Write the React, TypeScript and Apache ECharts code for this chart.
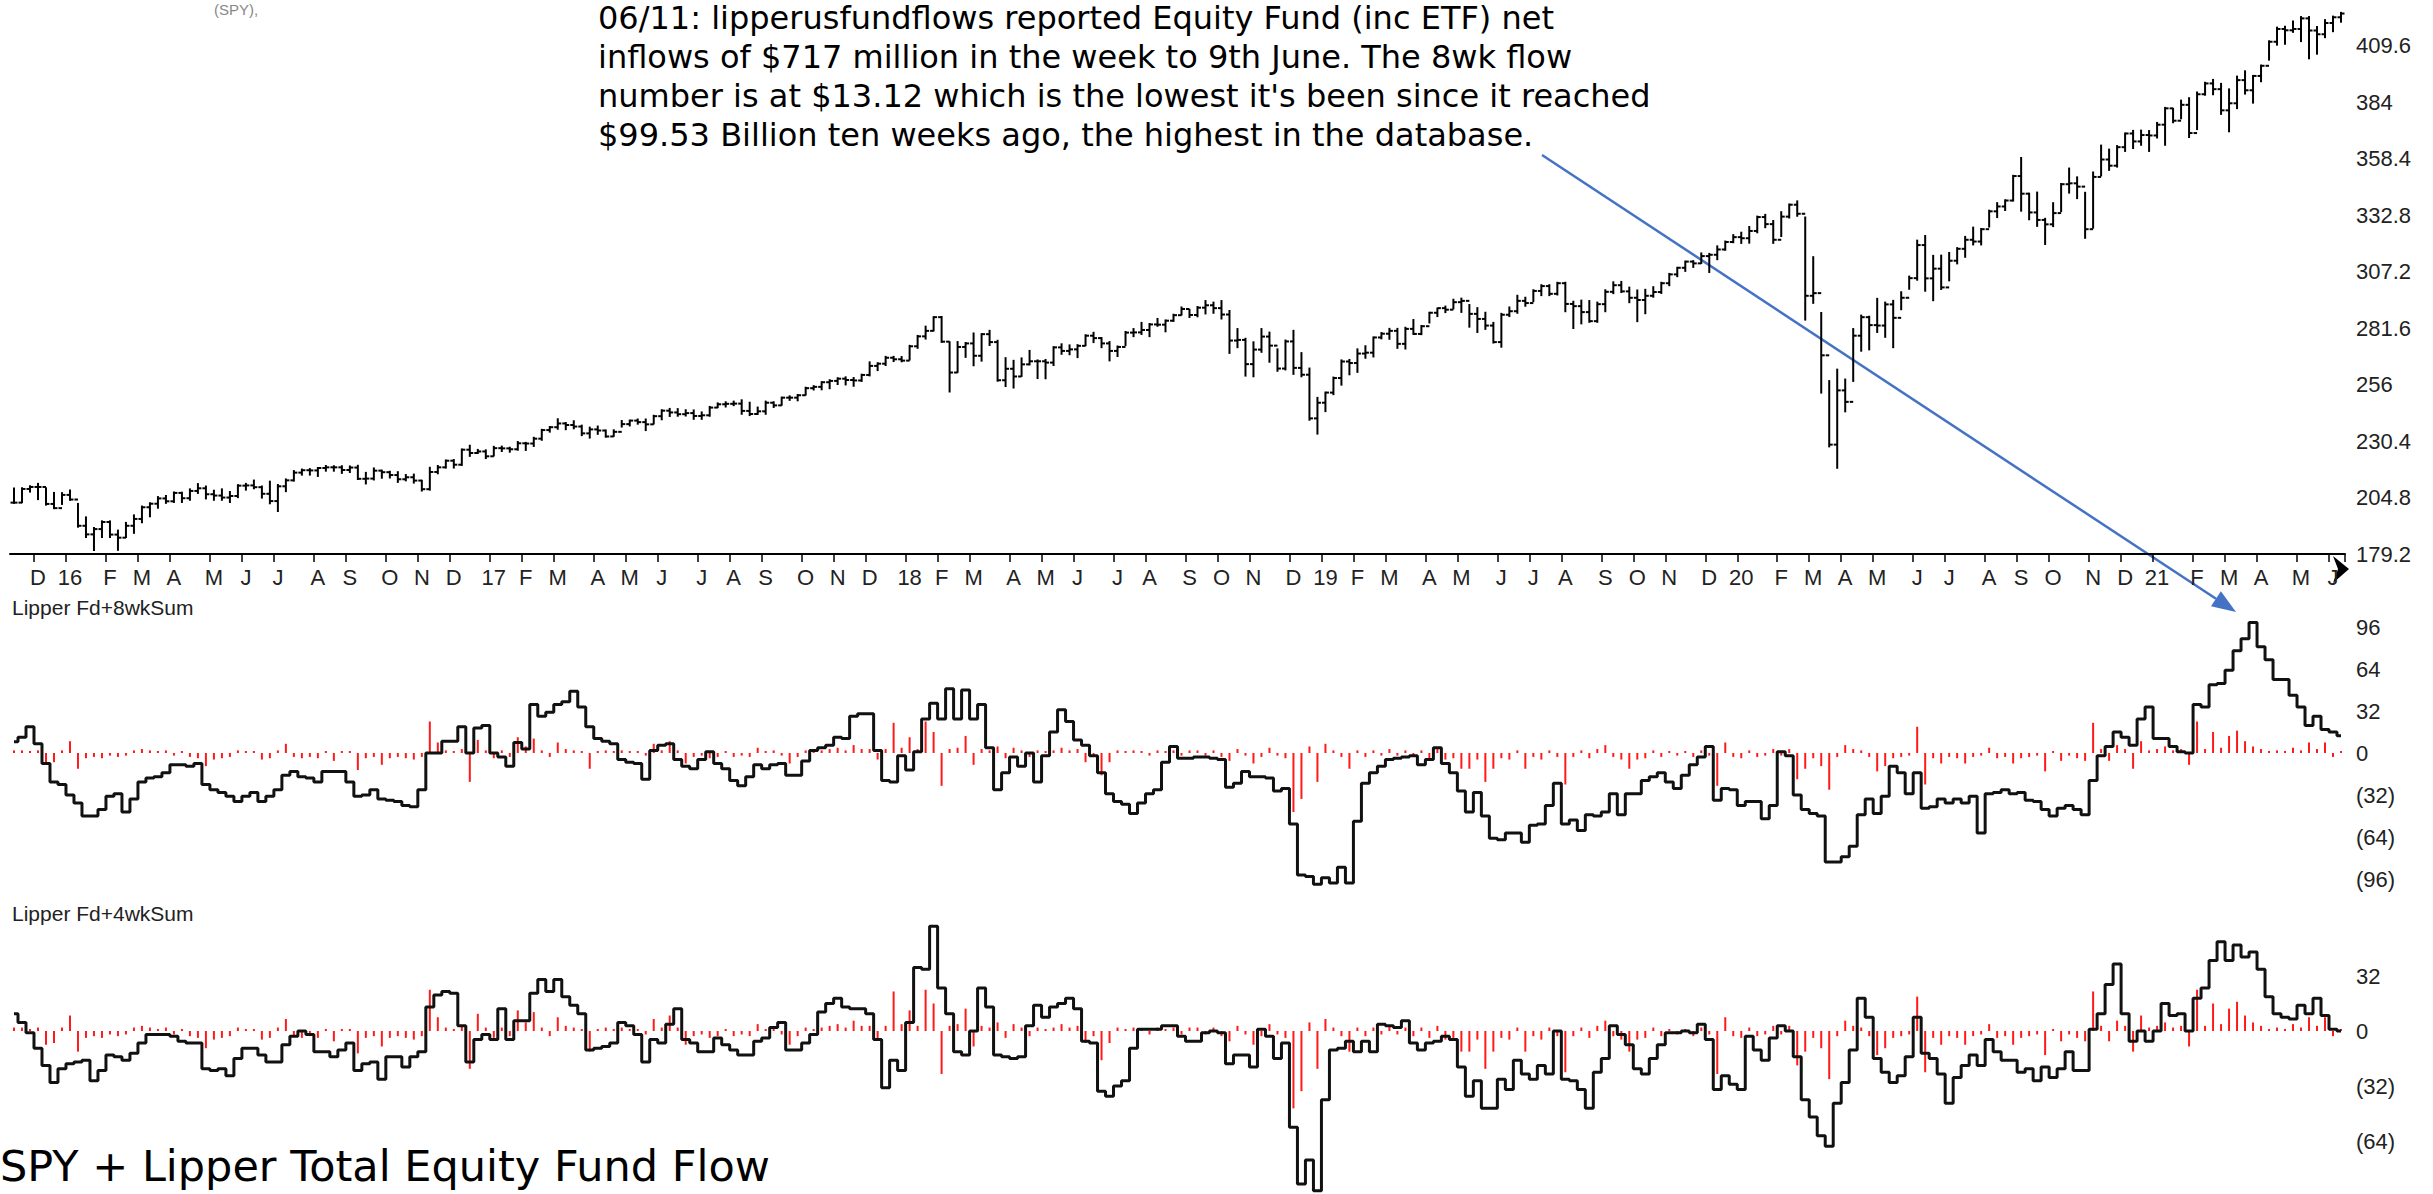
import React, { useEffect, useRef } from "react";
import * as echarts from "echarts";

// ---------- DATA ----------
const START_UTC = Date.UTC(2015, 10, 13);
const WEEKS = 292;
const weekDates: string[] = [];
for (let i = 0; i < WEEKS; i++) {
  weekDates.push(new Date(START_UTC + i * 7 * 86400000).toISOString().slice(0, 10));
}
const monthLetters = ["J", "F", "M", "A", "M", "J", "J", "A", "S", "O", "N", "D"];
const priceTicks = [179.2, 204.8, 230.4, 256, 281.6, 307.2, 332.8, 358.4, 384, 409.6];

const spyClose = [
  202.5, 208.7, 209.6, 209.6, 201.9, 200.0, 206.0, 203.9,
  192.0, 188.1, 190.5, 193.7, 188.0, 186.6, 192.0, 195.1, 200.4, 202.0, 204.4, 203.1, 206.9, 204.5, 207.8, 209.0, 206.3, 205.7, 204.8, 205.5, 210.2, 210.3, 209.5, 206.5, 203.2, 209.9, 212.6, 216.1, 217.2, 217.1, 218.2, 218.5, 218.5, 217.3, 218.4, 213.3, 213.4, 217.0, 216.3, 215.0, 213.1, 214.0, 212.5, 208.6, 216.4, 218.5, 221.5, 219.7, 226.5, 225.0, 225.7, 223.5,
  227.2, 227.1, 226.7, 229.4, 229.3, 231.5, 235.4, 236.7, 238.4, 237.7, 237.0, 233.9, 235.7, 235.2, 232.5, 234.6, 238.1, 239.7, 239.0, 238.0, 241.7, 244.2, 243.4, 242.6, 243.1, 241.8, 242.1, 245.6, 247.1, 247.3, 247.4, 244.1, 242.7, 243.9, 247.8, 246.6, 250.1, 250.1, 251.2, 254.4, 255.0, 257.1, 257.7, 258.7, 258.1, 257.9, 260.4, 264.5, 265.5, 268.2, 267.5, 266.9,
  273.4, 277.9, 280.4, 286.6, 275.5, 261.5, 273.1, 274.7, 269.1, 278.9, 275.3, 258.0, 263.2, 259.7, 265.2, 266.6, 266.6, 266.0, 272.9, 271.3, 272.0, 273.6, 278.2, 277.1, 274.7, 271.3, 273.1, 279.6, 279.7, 280.8, 283.3, 283.2, 285.0, 287.5, 290.3, 287.6, 290.9, 292.0, 290.7, 287.8, 276.0, 276.3, 265.3, 271.9, 277.8, 273.7, 263.3, 275.6, 263.6, 260.5, 240.7, 247.8,
  252.4, 259.0, 266.5, 265.8, 270.1, 270.5, 277.4, 279.1, 280.4, 274.5, 281.3, 279.0, 282.5, 288.6, 290.7, 290.0, 293.4, 294.0, 288.1, 285.8, 282.8, 275.3, 287.7, 289.3, 294.0, 293.0, 298.5, 300.7, 297.2, 302.0, 292.6, 291.6, 288.9, 284.8, 292.5, 298.1, 301.1, 298.3, 295.4, 294.4, 296.3, 298.0, 302.0, 306.0, 309.0, 311.8, 311.0, 314.3, 314.9, 317.3, 320.7, 322.9,
  322.4, 325.7, 332.0, 328.8, 321.7, 332.2, 337.6, 333.5, 296.3, 297.5, 269.3, 228.8, 253.4, 248.2, 278.2, 286.6, 283.0, 282.8, 292.4, 286.3, 295.4, 304.3, 319.3, 304.2, 308.6, 300.1, 312.2, 317.6, 321.7, 320.9, 326.5, 334.6, 336.8, 339.5, 350.6, 342.6, 334.1, 330.7, 328.7, 333.8, 346.9, 347.3, 345.8, 326.5, 350.2, 358.1, 355.3, 363.7, 369.9, 366.3, 369.2, 369.0, 373.9,
  381.3, 375.7, 382.9, 370.1, 387.7, 392.6, 390.0, 380.4, 383.6, 394.1, 389.5, 396.0, 400.6, 411.5, 417.3, 416.7, 417.3, 422.1, 416.6, 414.9, 420.0, 422.6, 424.3,
];
const spyHigh = [
  208.9, 209.0, 209.9, 211.0, 209.0, 206.9, 206.8, 208.0,
  201.9, 195.8, 191.0, 194.0, 194.0, 189.8, 193.3, 196.7, 200.7, 202.2, 205.0, 205.5, 207.1, 207.0, 208.5, 210.9, 209.8, 207.9, 208.5, 207.3, 210.4, 211.0, 212.5, 209.8, 212.0, 210.5, 213.0, 216.8, 217.5, 217.7, 218.2, 219.1, 219.0, 219.0, 218.9, 219.2, 216.0, 218.0, 217.0, 216.5, 216.3, 215.0, 215.2, 212.4, 218.3, 219.1, 221.6, 221.8, 226.6, 228.3, 226.4, 226.2,
  227.8, 227.9, 227.4, 230.0, 229.6, 231.9, 235.5, 236.8, 240.3, 238.6, 239.4, 237.4, 236.5, 237.0, 235.2, 235.3, 239.5, 239.7, 240.2, 240.2, 241.9, 244.4, 245.0, 244.9, 244.4, 244.3, 243.4, 245.9, 247.5, 248.0, 248.3, 248.9, 247.8, 245.6, 248.3, 248.0, 250.1, 250.7, 251.3, 254.6, 255.3, 257.1, 258.0, 258.9, 259.3, 259.0, 260.5, 266.1, 265.7, 268.6, 268.6, 268.5,
  273.6, 278.1, 282.3, 286.6, 286.7, 275.2, 275.3, 274.9, 279.2, 278.9, 280.4, 275.9, 268.0, 266.8, 267.9, 271.3, 267.0, 267.2, 273.0, 274.3, 273.8, 273.9, 278.4, 279.5, 277.1, 275.3, 273.3, 279.9, 281.2, 284.0, 283.5, 285.8, 285.1, 287.7, 291.0, 289.9, 291.2, 293.9, 293.2, 293.9, 289.4, 281.2, 276.8, 275.2, 281.2, 279.6, 272.0, 276.0, 280.4, 270.3, 263.3, 250.0,
  252.4, 259.2, 267.0, 267.2, 272.0, 273.4, 277.4, 279.4, 281.3, 281.3, 281.8, 285.3, 282.6, 288.6, 290.5, 291.4, 294.5, 295.0, 292.1, 290.7, 288.6, 284.0, 288.1, 291.0, 296.3, 295.4, 298.8, 301.1, 301.1, 302.2, 302.2, 293.6, 294.1, 293.9, 293.2, 298.8, 302.4, 302.6, 300.0, 298.7, 299.0, 300.2, 302.2, 306.2, 309.0, 311.8, 312.0, 315.5, 315.3, 318.7, 320.9, 323.8,
  324.9, 327.5, 332.2, 333.0, 330.2, 334.2, 337.7, 339.1, 331.8, 313.8, 288.5, 257.6, 262.8, 258.3, 281.2, 287.3, 286.8, 294.9, 293.2, 294.0, 297.9, 305.0, 321.3, 323.4, 314.4, 314.5, 315.7, 317.9, 323.0, 327.2, 326.6, 334.9, 338.3, 339.6, 350.7, 358.8, 342.6, 343.1, 331.2, 338.3, 347.0, 354.0, 350.0, 343.0, 352.2, 364.4, 362.6, 364.2, 369.9, 371.1, 371.2, 371.0, 374.7,
  381.5, 381.1, 384.8, 385.9, 388.5, 392.9, 394.2, 392.4, 389.9, 395.7, 398.1, 396.0, 400.7, 411.7, 417.9, 418.3, 420.7, 422.7, 422.7, 418.2, 421.3, 422.9, 424.6,
];
const spyLow = [
  202.4, 202.7, 207.5, 204.1, 201.6, 200.0, 201.9, 203.8,
  191.6, 186.9, 181.0, 186.9, 186.9, 181.1, 186.9, 188.8, 193.6, 196.3, 200.2, 202.4, 202.8, 202.8, 203.8, 206.9, 204.4, 203.8, 203.8, 202.8, 205.0, 208.4, 209.0, 204.8, 202.2, 198.7, 207.7, 212.5, 215.2, 215.2, 214.6, 217.0, 217.0, 216.0, 216.4, 213.2, 211.2, 213.0, 213.8, 213.9, 211.9, 212.6, 211.6, 208.0, 208.4, 215.8, 218.4, 218.4, 219.6, 223.7, 225.0, 222.7,
  223.9, 225.9, 225.6, 226.5, 226.4, 228.2, 231.0, 234.7, 236.0, 235.8, 236.2, 233.1, 232.0, 233.7, 232.4, 232.8, 237.0, 237.5, 238.3, 235.4, 238.4, 240.3, 241.8, 241.9, 242.0, 240.5, 240.5, 241.9, 245.8, 246.1, 246.7, 242.8, 242.2, 242.7, 242.8, 245.9, 246.9, 249.1, 248.9, 251.5, 253.8, 253.9, 254.4, 256.3, 256.1, 255.5, 257.7, 260.2, 262.6, 264.9, 266.7, 266.6,
  267.4, 272.7, 276.9, 280.6, 275.4, 252.9, 261.8, 268.6, 264.8, 266.9, 274.0, 257.8, 255.4, 254.7, 260.0, 265.2, 259.0, 258.9, 264.9, 270.0, 269.8, 268.5, 273.9, 275.3, 273.0, 267.0, 269.0, 274.0, 278.0, 279.0, 278.0, 282.7, 280.2, 284.9, 287.8, 286.7, 287.0, 288.3, 288.6, 286.0, 270.4, 273.0, 260.1, 259.8, 270.9, 266.4, 262.3, 262.9, 260.9, 259.8, 240.1, 233.8,
  244.0, 251.7, 256.0, 260.7, 261.8, 268.2, 268.8, 277.0, 276.8, 272.7, 272.4, 279.0, 278.9, 284.2, 287.1, 288.9, 290.6, 289.0, 282.3, 279.9, 281.3, 275.1, 273.2, 287.1, 288.6, 291.8, 293.9, 296.6, 296.6, 296.9, 289.3, 281.7, 283.8, 284.5, 284.5, 289.3, 297.5, 298.0, 293.4, 284.8, 288.4, 295.9, 297.6, 301.1, 305.2, 307.6, 309.4, 311.2, 307.1, 312.9, 317.2, 320.6,
  320.3, 320.4, 325.1, 327.4, 320.3, 323.4, 331.8, 332.6, 285.5, 293.1, 252.4, 228.0, 218.3, 243.9, 257.7, 271.4, 272.0, 279.9, 277.7, 273.0, 290.2, 299.5, 303.6, 298.6, 294.3, 299.4, 303.3, 311.0, 314.0, 319.6, 319.6, 327.7, 332.0, 335.2, 339.5, 334.9, 331.0, 328.0, 319.8, 327.9, 334.7, 343.1, 340.6, 322.6, 327.2, 350.9, 353.4, 354.9, 362.0, 363.3, 364.8, 362.0, 368.1,
  364.8, 375.0, 376.8, 368.3, 371.9, 387.5, 387.7, 378.8, 370.9, 381.4, 388.0, 383.9, 393.6, 403.4, 410.2, 410.6, 416.0, 411.8, 404.0, 406.1, 413.6, 416.3, 420.6,
];

const flow8wkSum = [
  8.6, 12, 20, 7, -8, -22, -24, -32, -38, -48,
  -48, -43, -33, -31, -45, -35, -22, -19, -18, -15,
  -9, -9, -10, -8, -24, -28, -30, -33, -37, -33,
  -30, -37, -33, -28, -17, -14, -18, -19, -22, -14,
  -14, -14, -22, -33, -32, -28, -35, -36, -37, -40,
  -41, -28, 0, 0, 9, 9, 20, 0, 19, 21,
  0, -3, -10, 8, 3, 37, 28, 31, 37, 39,
  47, 35, 20, 11, 9, 7, -5, -7, -8, -20,
  2, 6, 7, -5, -10, -12, -5, 1, -8, -12,
  -21, -25, -18, -9, -12, -9, -8, -17, -17, -6,
  2, 4, 6, 12, 11, 28, 30, 30, 2, -21,
  -22, -2, -13, 1, 26, 38, 26, 49, 26, 48,
  26, 37, 4, -28, -15, -3, -10, 0, -22, -2,
  16, 33, 24, 10, 6, -2, -15, -31, -37, -39,
  -46, -38, -31, -28, -7, 5, -4, -4, -3, -3,
  -4, -5, -26, -23, -14, -18, -18, -19, -29, -27,
  -54, -93, -94, -100, -95, -99, -87, -99, -52, -23,
  -15, -10, -5, -4, -3, -2, -9, -5, 4, -8,
  -15, -29, -45, -30, -48, -65, -66, -61, -61, -68,
  -55, -54, -40, -23, -54, -51, -59, -47, -48, -45,
  -31, -47, -31, -31, -21, -18, -15, -22, -27, -17,
  -9, -3, 5, -36, -27, -28, -40, -37, -37, -50,
  -40, 1, -2, -32, -43, -46, -48, -83, -83, -79,
  -71, -47, -35, -46, -33, -10, -15, -31, -15, -42,
  -41, -35, -38, -35, -38, -33, -61, -31, -30, -28,
  -31, -30, -36, -37, -43, -48, -42, -40, -43, -47,
  -21, -2, 5, 16, 12, 6, 26, 35, 11, 11,
  5, 1, 0, 37, 35, 52, 53, 63, 78, 87,
  99.5, 81, 71, 56, 56, 44, 35, 21, 28, 18,
  16, 13.1,
];

const flow4wkSum = [
  10, 5, -1, -10, -20, -30, -22, -19, -18, -17,
  -29, -23, -14, -15, -17, -13, -7, -2, -2, -2,
  -3, -6, -7, -7, -22, -23, -22, -26, -16, -10,
  -10, -14, -18, -18, -8, -3, 0, -2, -12, -12,
  -15, -11, -7, -23, -19, -18, -28, -15, -15, -21,
  -15, -12, 14, 21, 23, 22, 3, -18, -5, -2,
  -5, 13, -5, 6, 6, 22, 30, 23, 30, 20,
  15, 10, -11, -10, -9, -7, 5, 3, -2, -18,
  -5, -7, 4, 13, -5, -7, -12, -12, -4, -8,
  -11, -14, -14, -6, -4, 2, 5, -11, -11, -7,
  -2, 11, 16, 19, 14, 13, 13, 10, -5, -33,
  -17, -23, 5, 37, 36, 61, 25, 10, -12, -14,
  0, 25, 14, -14, -15, -16, -15, 3, 15, 8,
  14, 16, 19, 13, -6, -7, -35, -38, -32, -29,
  -10, 1, 1, 1, 3, 3, -3, -6, -6, -1,
  0, -1, -19, -14, -14, -21, 1, -3, -16, -7,
  -56, -89, -75, -93, -40, -11, -10, -6, -12, -6,
  -12, 4, 3, 2, 6, -7, -11, -7, -6, -3,
  -5, -21, -38, -29, -45, -45, -28, -34, -17, -25,
  -28, -20, -25, 0, -28, -29, -34, -45, -24, -16,
  3, -2, -8, -22, -25, -16, -8, -1, -1, 0,
  -1, 4, -5, -34, -26, -31, -34, -3, -11, -17,
  -4, 3, 0, -15, -40, -50, -61, -67, -42, -30,
  -11, 19, 8, -16, -24, -30, -26, -15, 8, -13,
  -16, -25, -42, -27, -20, -14, -20, -5, -12, -17,
  -17, -24, -22, -29, -21, -27, -22, -12, -23, -23,
  1, 10, 27, 39, 10, -6, 0, -6, 0, 16,
  9, 10, 0, 19, 25, 41, 52, 41, 50, 43,
  46, 36, 20, 10, 8, 7, 15, 10, 19, 9,
  1, 0,
];

const weeklyFlow = [
  2, 2, 1, 2, -8, -7, 2, 9, -12, -4,
  -3, -4, -2, -3, -2, 2, 3, 2, 1, 2,
  -2, 1, -3, -4, -10, -5, -4, -3, 2, 1,
  0, -5, -4, 2, 7, -3, -4, -3, -4, 1,
  -6, 1, 0, -13, -4, -3, -9, -4, -3, -4,
  -5, -3, 24, 8, 2, 1, 3, -22, 10, 2,
  -4, 2, -3, 12, 5, 11, 2, -3, 8, 3,
  2, 1, -12, 1, 2, 1, 2, 1, 1, -2,
  7, 2, 9, 2, -8, -3, -2, -4, -3, 1,
  -3, -2, -3, 4, 1, 2, -2, -8, -3, 2,
  1, 2, 3, 4, 2, 6, 3, 3, -5, 3,
  23, 4, 12, 3, 24, 16, -25, 3, 4, 13,
  -9, 3, 2, 5, -4, 4, 2, -3, 2, 1,
  2, 4, 2, 3, -7, -3, -17, -7, 2, 1,
  2, 1, -2, 2, 1, 2, -2, 2, 2, -2,
  2, -3, -6, 3, -2, -8, -3, 4, -2, -4,
  -45, -35, 5, -22, 7, 2, -3, -12, 2, -3,
  2, -2, 3, -2, 2, -3, 2, -4, 3, -5,
  -4, -12, -12, -5, -22, -12, -4, -5, 2, -12,
  -3, -5, 2, -3, -24, -3, 2, -4, 3, 6,
  -3, -5, -12, -5, -4, 2, -3, 1, -2, 1,
  -3, 2, -2, -25, 8, -3, -4, 2, -3, -2,
  3, -2, 3, -20, -12, -4, -10, -28, -3, 6,
  3, 2, -3, -14, -10, -4, -3, -2, 20, -24,
  -4, -8, -3, -4, -8, -3, -2, 4, -4, -3,
  -8, -4, -3, -2, -14, 1, -6, -2, -4, -6,
  23, 3, -6, 6, 3, -12, 9, 2, 3, 5,
  2, 3, -9, 24, 3, 16, 4, 13, 17, 9,
  5, 3, 1, 2, 1, 4, 2, 8, 3, 8,
  -3, 0.7,
];

const annotationLines = [
  "06/11: lipperusfundflows reported Equity Fund (inc ETF) net",
  "inflows of $717 million in the week to 9th June. The 8wk flow",
  "number is at $13.12 which is the lowest it's been since it reached",
  "$99.53 Billion ten weeks ago, the highest in the database.",
];

// ---------- CHART ----------
const AXIS_FONT = "'Liberation Sans', Arial, sans-serif";
const TEXT_FONT = "'DejaVu Sans', Verdana, sans-serif";

function isMonthStart(idx: number): boolean {
  return idx > 0 && weekDates[idx].slice(5, 7) !== weekDates[idx - 1].slice(5, 7);
}
function monthLabel(v: string): string {
  const m = parseInt(v.slice(5, 7), 10);
  return m === 1 ? v.slice(2, 4) : monthLetters[m - 1];
}
function flowLabel(limitHi: number, limitLo: number) {
  return (v: number) => {
    if (v > limitHi || v < limitLo) return "";
    return v < 0 ? `(${-v})` : `${v}`;
  };
}

export default function App() {
  const ref = useRef<HTMLDivElement>(null);
  useEffect(() => {
    if (!ref.current) return;
    const chart = echarts.init(ref.current, null, { renderer: "svg" });
    const gridBase = { left: 10, right: 88, containLabel: false, outerBoundsMode: "none" };
    const ohlcData = spyClose.map((c, i) => [i, c, spyHigh[i], spyLow[i], i > 0 ? spyClose[i - 1] : c]);
    const labelStyle = { color: "#222", fontSize: 22, fontFamily: AXIS_FONT };

    const option: any = {
      animation: false,
      backgroundColor: "#ffffff",
      grid: [
        { ...gridBase, top: -10.5, height: 564.5 },
        { ...gridBase, top: 585, height: 336 },
        { ...gridBase, top: 921, height: 330 },
      ],
      xAxis: [
        {
          type: "category",
          gridIndex: 0,
          data: weekDates,
          boundaryGap: true,
          axisLine: { show: true, lineStyle: { color: "#000", width: 2 } },
          axisTick: {
            show: true,
            alignWithLabel: false,
            length: 8,
            interval: (idx: number) => isMonthStart(idx),
            lineStyle: { color: "#000", width: 1.5 },
          },
          axisLabel: {
            ...labelStyle,
            margin: 12,
            interval: (idx: number) => isMonthStart(idx),
            formatter: (v: string) => monthLabel(v),
          },
          splitLine: { show: false },
        },
        { type: "category", gridIndex: 1, data: weekDates, boundaryGap: true, show: false },
        { type: "category", gridIndex: 2, data: weekDates, boundaryGap: true, show: false },
      ],
      yAxis: [
        {
          type: "value",
          gridIndex: 0,
          position: "right",
          min: priceTicks[0],
          max: 435.2,
          interval: 25.6,
          axisLine: { show: false },
          axisTick: { show: false },
          splitLine: { show: false },
          axisLabel: {
            ...labelStyle,
            margin: 11,
            showMinLabel: true,
            formatter: (v: number) => {
              const r = Math.round(v * 10) / 10;
              return r > priceTicks[priceTicks.length - 1] + 1 ? "" : String(r);
            },
          },
        },
        {
          type: "value",
          gridIndex: 1,
          position: "right",
          min: -128,
          max: 128,
          interval: 32,
          axisLine: { show: false },
          axisTick: { show: false },
          splitLine: { show: false },
          axisLabel: { ...labelStyle, margin: 11, formatter: flowLabel(96, -96) },
        },
        {
          type: "value",
          gridIndex: 2,
          position: "right",
          min: -128,
          max: 64,
          interval: 32,
          axisLine: { show: false },
          axisTick: { show: false },
          splitLine: { show: false },
          axisLabel: { ...labelStyle, margin: 11, formatter: flowLabel(32, -64) },
        },
      ],
      series: [
        {
          type: "custom",
          name: "SPY",
          xAxisIndex: 0,
          yAxisIndex: 0,
          data: ohlcData,
          encode: { x: 0, y: [1, 2, 3, 4] },
          renderItem: (params: any, api: any) => {
            const i = api.value(0);
            const pC = api.coord([i, api.value(1)]);
            const pH = api.coord([i, api.value(2)]);
            const pL = api.coord([i, api.value(3)]);
            const pO = api.coord([i, api.value(4)]);
            const x = pC[0];
            const style = { stroke: "#000", lineWidth: 2 };
            return {
              type: "group",
              children: [
                { type: "line", shape: { x1: x, y1: pH[1] - 1, x2: x, y2: pL[1] + 1 }, style },
                { type: "line", shape: { x1: x - 3.5, y1: pO[1], x2: x, y2: pO[1] }, style },
                { type: "line", shape: { x1: x, y1: pC[1], x2: x + 3.5, y2: pC[1] }, style },
              ],
            };
          },
        },
        {
          type: "bar",
          name: "Weekly flow 8",
          xAxisIndex: 1,
          yAxisIndex: 1,
          data: weeklyFlow,
          barWidth: 2,
          barMinHeight: 2,
          itemStyle: { color: "#ff1a1a" },
          z: 2,
        },
        {
          type: "line",
          name: "Lipper Fd+8wkSum",
          xAxisIndex: 1,
          yAxisIndex: 1,
          data: flow8wkSum,
          step: "middle",
          showSymbol: false,
          symbol: "none",
          lineStyle: { color: "#111", width: 3 },
          z: 3,
        },
        {
          type: "bar",
          name: "Weekly flow 4",
          xAxisIndex: 2,
          yAxisIndex: 2,
          data: weeklyFlow,
          barWidth: 2,
          barMinHeight: 2,
          itemStyle: { color: "#ff1a1a" },
          z: 2,
        },
        {
          type: "line",
          name: "Lipper Fd+4wkSum",
          xAxisIndex: 2,
          yAxisIndex: 2,
          data: flow4wkSum,
          step: "middle",
          showSymbol: false,
          symbol: "none",
          lineStyle: { color: "#111", width: 3 },
          z: 3,
        },
      ],
      graphic: [
        {
          type: "text",
          x: 214,
          y: 9,
          style: {
            text: "(SPY),",
            fill: "#888",
            fontSize: 15,
            fontFamily: AXIS_FONT,
            align: "left",
            verticalAlign: "middle",
          },
        },
        {
          type: "text",
          x: 598,
          y: -2,
          style: {
            text: annotationLines.join("\n"),
            fill: "#000",
            fontSize: 32,
            lineHeight: 39,
            fontFamily: TEXT_FONT,
            align: "left",
            verticalAlign: "top",
          },
        },
        {
          type: "line",
          shape: { x1: 1542, y1: 155, x2: 2216, y2: 598.8 },
          style: { stroke: "#4472C4", lineWidth: 2.5 },
        },
        {
          type: "polygon",
          shape: { points: [[2236, 612], [2211, 606.3], [2220.9, 591.3]] },
          style: { fill: "#4472C4" },
        },
        {
          type: "polygon",
          shape: { points: [[2333, 556], [2349, 569], [2333, 583], [2338, 569]] },
          style: { fill: "#000" },
        },
        {
          type: "text",
          x: 12,
          y: 607,
          style: {
            text: "Lipper Fd+8wkSum",
            fill: "#222",
            fontSize: 21,
            fontFamily: AXIS_FONT,
            verticalAlign: "middle",
          },
        },
        {
          type: "text",
          x: 12,
          y: 913,
          style: {
            text: "Lipper Fd+4wkSum",
            fill: "#222",
            fontSize: 21,
            fontFamily: AXIS_FONT,
            verticalAlign: "middle",
          },
        },
        {
          type: "text",
          x: 0,
          y: 1166,
          style: {
            text: "SPY + Lipper Total Equity Fund Flow",
            fill: "#000",
            fontSize: 43,
            fontFamily: TEXT_FONT,
            verticalAlign: "middle",
          },
        },
      ],
    };
    chart.setOption(option);
    return () => chart.dispose();
  }, []);
  return (
    <div
      ref={ref}
      style={{ position: "absolute", left: 0, top: 0, width: 2433, height: 1194, background: "#fff" }}
    />
  );
}
